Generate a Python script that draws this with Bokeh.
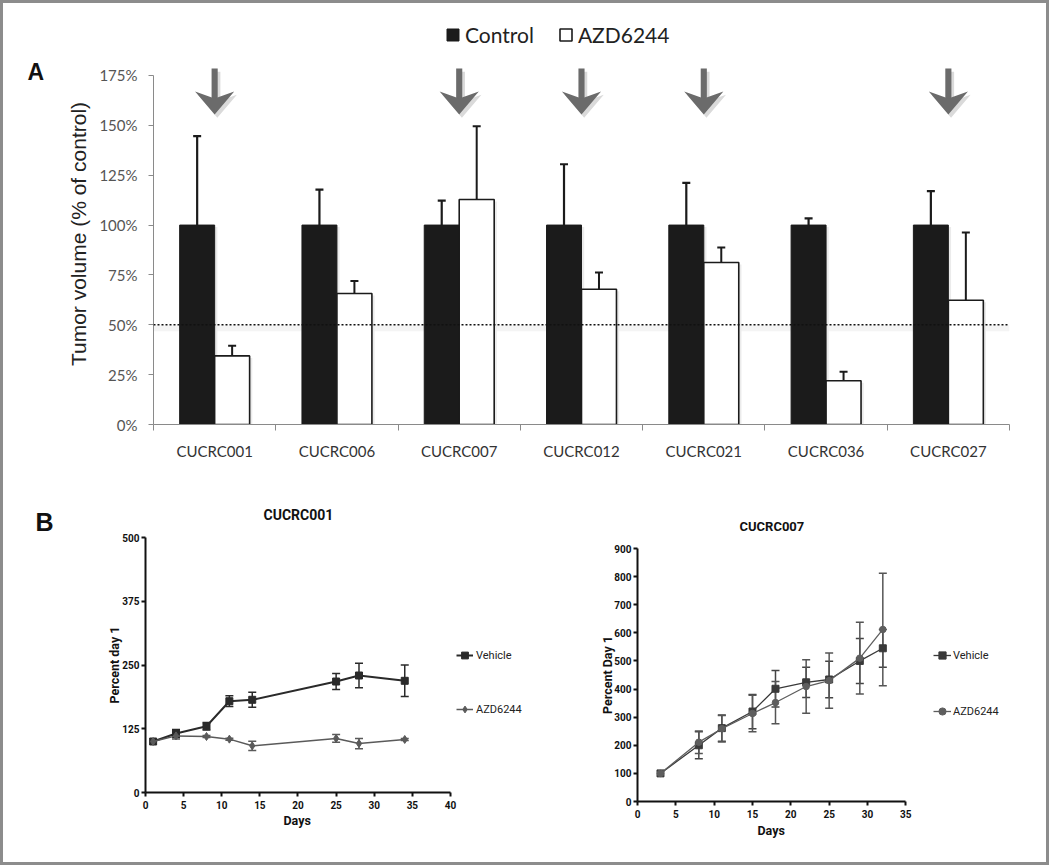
import numpy as np
from bokeh.plotting import figure
from bokeh.models import (ColumnDataSource, Range1d, FixedTicker, PrintfTickFormatter,
                          Whisker, TeeHead, Span, Label, Legend, LegendItem, Title)
from bokeh.layouts import column, row
from bokeh.embed import file_html
from bokeh.resources import INLINE

# ---------------- Panel A data ----------------
tumors = ["CUCRC001", "CUCRC006", "CUCRC007", "CUCRC012", "CUCRC021", "CUCRC036", "CUCRC027"]
control_mean = [100, 100, 100, 100, 100, 100, 100]
control_err = [44.6, 17.8, 12.3, 30.5, 21.2, 3.4, 17.0]
azd_mean = [34.4, 65.7, 112.8, 67.8, 81.2, 21.9, 62.3]
azd_err = [5.1, 6.3, 36.8, 8.4, 7.5, 4.5, 34.0]
arrow_tumors = ["CUCRC001", "CUCRC007", "CUCRC012", "CUCRC021", "CUCRC027"]
threshold = 50
a_ticks = [0, 25, 50, 75, 100, 125, 150, 175]

# ---------------- Panel B data ----------------
b1_days = [1, 4, 8, 11, 14, 25, 28, 34]
b1_vehicle = [100, 115.7, 130, 179, 181.8, 217.6, 229.4, 219]
b1_vehicle_err = [0, 8, 7.5, 10.5, 14.7, 15.7, 24, 31]
b1_azd = [100, 111, 109.8, 104.6, 91.5, 106, 96, 104]
b1_azd_err = [0, 6, 2, 2, 9, 7.5, 10, 2]
b1_xticks = [0, 5, 10, 15, 20, 25, 30, 35, 40]
b1_yticks = [0, 125, 250, 375, 500]

b2_days = [3, 8, 11, 15, 18, 22, 25, 29, 32]
b2_vehicle = [100, 200, 261, 320, 401, 424, 434, 500, 545]
b2_vehicle_err = [0, 48, 47, 61, 65, 54, 65, 80, 67]
b2_azd = [100, 211, 259, 313, 352, 409, 430, 510, 612]
b2_azd_err = [0, 40, 47, 65, 75, 95, 98, 128, 200]
b2_xticks = [0, 5, 10, 15, 20, 25, 30, 35]
b2_yticks = [0, 100, 200, 300, 400, 500, 600, 700, 800, 900]

COND = "Roboto"
ARIAL = "Liberation Sans"
CAL = "Lato"

# ================= left strip with panel letters / y label =================
strip = figure(width=89, height=859, x_range=Range1d(0, 89), y_range=Range1d(0, 859),
               x_axis_type=None, y_axis_type=None, output_backend="svg",
               toolbar_location=None, min_border=0)
strip.outline_line_color = None
strip.xgrid.visible = False
strip.ygrid.visible = False
strip.add_layout(Label(x=24, y=778, x_units="screen", y_units="screen", text="A",
                       text_font=ARIAL, text_font_style="bold", text_font_size="23px",
                       text_color="#111111"))
strip.add_layout(Label(x=74.5, y=628.5, x_units="screen", y_units="screen",
                       text="Tumor volume (% of control)", angle=np.pi / 2,
                       text_align="center", text_baseline="middle",
                       text_font=ARIAL, text_font_size="21px", text_color="#222222"))
strip.add_layout(Label(x=32, y=327, x_units="screen", y_units="screen", text="B",
                       text_font=ARIAL, text_font_style="bold", text_font_size="25px",
                       text_color="#111111"))

# ================= Panel A =================
pA = figure(width=954, height=469, x_range=Range1d(0, 7), y_range=Range1d(0, 211.1),
            output_backend="svg", toolbar_location=None,
            min_border_left=61, min_border_right=37, min_border_top=0, min_border_bottom=48)
pA.outline_line_color = None
pA.xgrid.visible = False
pA.ygrid.visible = False

centers = np.arange(len(tumors)) + 0.5
half = 0.143
srcA = ColumnDataSource(dict(
    xc=centers - half, xa=centers + half,
    c=control_mean, a=azd_mean,
    cu=np.add(control_mean, control_err), au=np.add(azd_mean, azd_err)))

pA.add_layout(Span(location=threshold - 1.8, dimension="width", line_color="#f4f4f4",
                   line_width=6, level="underlay"))

# soft bar shadows
pA.vbar(x=np.add(centers, half + 0.022), top=np.subtract(azd_mean, 1.0), bottom=0,
        width=2 * half, fill_color="#ebebeb", line_color=None)
pA.vbar(x=np.add(centers, -half + 0.022), top=np.subtract(control_mean, 1.0), bottom=0,
        width=2 * half, fill_color="#ebebeb", line_color=None)

rc = pA.vbar(x="xc", top="c", bottom=0, width=2 * half, source=srcA,
             fill_color="#1b1b1b", line_color="#1b1b1b", line_width=1)
ra = pA.vbar(x="xa", top="a", bottom=0, width=2 * half, source=srcA,
             fill_color="white", line_color="#1b1b1b", line_width=1.6)

pA.add_layout(Whisker(source=srcA, base="xc", lower="c", upper="cu", line_width=2.2,
                      line_color="#1b1b1b", lower_head=None,
                      upper_head=TeeHead(size=8, line_width=2.2, line_color="#1b1b1b")))
pA.add_layout(Whisker(source=srcA, base="xa", lower="a", upper="au", line_width=2,
                      line_color="#1b1b1b", lower_head=None,
                      upper_head=TeeHead(size=8, line_width=2, line_color="#1b1b1b")))

pA.add_layout(Span(location=threshold, dimension="width", line_color="#111111",
                   line_width=1.6, line_dash="2 2"))

# arrows
ax = np.array([tumors.index(t) + 0.5 for t in arrow_tumors])
hw = 0.16
for dx, dy, col in [(0.022, -1.6, "#dadada"), (0.0, 0.0, "#6b6b6b")]:
    pA.vbar(x=ax + dx, bottom=163 + dy, top=178.5 + dy, width=0.05, fill_color=col, line_color=None)
    pA.patches(xs=[[x - hw + dx, x + dx, x + hw + dx, x + dx] for x in ax],
               ys=[[167 + dy, 155.4 + dy, 167 + dy, 163.5 + dy] for _ in ax],
               fill_color=col, line_color=None)

# axes A
pA.xaxis.ticker = FixedTicker(ticks=list(centers), minor_ticks=list(range(len(tumors) + 1)))
pA.xaxis.major_label_overrides = {float(c): t for c, t in zip(centers, tumors)}
pA.xaxis.major_tick_out = 0
pA.xaxis.major_tick_in = 0
pA.xaxis.minor_tick_out = 6
pA.xaxis.minor_tick_in = 0
pA.xaxis.minor_tick_line_color = "#8a8a8a"
pA.xaxis.axis_line_color = "#8a8a8a"
pA.xaxis.major_label_standoff = 11
pA.xaxis.major_label_text_font = CAL
pA.xaxis.major_label_text_font_size = "15px"
pA.xaxis.major_label_text_color = "#333333"

pA.yaxis.ticker = FixedTicker(ticks=a_ticks, minor_ticks=[])
pA.yaxis.formatter = PrintfTickFormatter(format="%d%%")
pA.yaxis.bounds = (0, 175)
pA.yaxis.major_tick_out = 5
pA.yaxis.major_tick_in = 0
pA.yaxis.axis_line_color = "#8a8a8a"
pA.yaxis.major_tick_line_color = "#8a8a8a"
pA.yaxis.major_label_standoff = 11
pA.yaxis.major_label_text_font = CAL
pA.yaxis.major_label_text_font_size = "15px"
pA.yaxis.major_label_text_color = "#555555"

legA = Legend(items=[LegendItem(label="Control", renderers=[rc]),
                     LegendItem(label="AZD6244", renderers=[ra])],
              orientation="horizontal", location=(292, 377),
              glyph_width=15, glyph_height=15, label_standoff=5, spacing=24,
              padding=0, margin=0, border_line_color=None, background_fill_alpha=0,
              label_text_font=CAL, label_text_font_size="21px", label_height=24,
              label_text_color="#222222")
pA.add_layout(legA)


# ================= Panel B helpers =================
def style_axes(p, xticks, yticks, xbound, ylabel, ystand, lab_size):
    p.outline_line_color = None
    p.xgrid.visible = False
    p.ygrid.visible = False
    p.xaxis.ticker = FixedTicker(ticks=xticks, minor_ticks=[])
    p.yaxis.ticker = FixedTicker(ticks=yticks, minor_ticks=[])
    p.xaxis.bounds = xbound
    for a in (p.xaxis[0], p.yaxis[0]):
        a.axis_line_width = 2
        a.axis_line_color = "#111111"
        a.major_tick_line_width = 2
        a.major_tick_line_color = "#111111"
        a.major_tick_out = 4
        a.major_tick_in = 0
        a.major_label_text_font = COND
        a.major_label_text_font_style = "bold"
        a.major_label_text_font_size = "10px"
        a.major_label_text_color = "#111111"
        a.axis_label_text_font = COND
        a.axis_label_text_font_style = "bold"
        a.axis_label_text_font_size = lab_size
        a.axis_label_text_color = "#111111"
    p.xaxis.major_label_standoff = 4
    p.yaxis.major_label_standoff = 2
    p.yaxis.axis_label = ylabel
    p.yaxis.axis_label_standoff = ystand


def add_titles(p, title, t_size, t_off, t_stand, d_off, d_stand):
    p.title.text = title
    p.title.align = "left"
    p.title.offset = t_off
    p.title.standoff = t_stand
    p.title.text_font = COND
    p.title.text_font_style = "bold"
    p.title.text_font_size = t_size
    p.title.text_color = "#111111"
    p.add_layout(Title(text="Days", align="left", offset=d_off, standoff=d_stand,
                       vertical_align="top",
                       text_font=COND, text_font_style="bold", text_font_size="12.5px",
                       text_color="#111111"), "below")


def add_err(p, days, vals, errs, col):
    d = [(x, v - e, v + e) for x, v, e in zip(days, vals, errs) if e > 0]
    s = ColumnDataSource(dict(x=[t[0] for t in d], l=[t[1] for t in d], u=[t[2] for t in d]))
    p.add_layout(Whisker(source=s, base="x", lower="l", upper="u", line_width=1.5, line_color=col,
                         upper_head=TeeHead(size=8, line_width=1.5, line_color=col),
                         lower_head=TeeHead(size=8, line_width=1.5, line_color=col)))


# ================= Panel B left =================
pB1 = figure(width=436, height=390, x_range=Range1d(0, 50.23), y_range=Range1d(0, 500),
             output_backend="svg", toolbar_location=None,
             min_border_left=53, min_border_right=0, min_border_top=65, min_border_bottom=70)
style_axes(pB1, b1_xticks, b1_yticks, (0, 40), "Percent day 1", -3, "12.5px")
add_titles(pB1, "CUCRC001", "14px", 118, 30, 138, 2)

VCOL1 = "#2a2a2a"
ACOL1 = "#5a5a5a"
add_err(pB1, b1_days, b1_vehicle, b1_vehicle_err, VCOL1)
add_err(pB1, b1_days, b1_azd, b1_azd_err, ACOL1)
lv1 = pB1.line(b1_days, b1_vehicle, line_width=2, line_color=VCOL1)
sv1 = pB1.scatter(b1_days, b1_vehicle, marker="square", size=7, fill_color=VCOL1, line_color=VCOL1)
la1 = pB1.line(b1_days, b1_azd, line_width=1.5, line_color=ACOL1)
sa1 = pB1.scatter(b1_days, b1_azd, marker="diamond", size=8, fill_color=ACOL1, line_color=ACOL1)

legB1 = Legend(items=[LegendItem(label="Vehicle", renderers=[lv1, sv1]),
                      LegendItem(label="AZD6244", renderers=[la1, sa1])],
               location=(311, 73), glyph_width=17, glyph_height=20, label_height=20,
               label_standoff=3, spacing=34, padding=0, margin=0, border_line_color=None,
               background_fill_alpha=0, label_text_font=COND, label_text_font_size="11px",
               label_text_color="#222222")
pB1.add_layout(legB1)

# ================= Panel B right =================
pB2 = figure(width=518, height=390, x_range=Range1d(0, 53.35), y_range=Range1d(0, 900),
             output_backend="svg", toolbar_location=None,
             min_border_left=109, min_border_right=0, min_border_top=76, min_border_bottom=61)
style_axes(pB2, b2_xticks, b2_yticks, (0, 35), "Percent Day 1", -4, "12.5px")
add_titles(pB2, "CUCRC007", "13px", 102, 30, 120, 4)

VCOL2 = "#3a3a3a"
ACOL2 = "#5e5e5e"
add_err(pB2, b2_days, b2_vehicle, b2_vehicle_err, "#444444")
add_err(pB2, b2_days, b2_azd, b2_azd_err, "#555555")
lv2 = pB2.line(b2_days, b2_vehicle, line_width=1.3, line_color=VCOL2)
sv2 = pB2.scatter(b2_days, b2_vehicle, marker="square", size=7, fill_color=VCOL2, line_color=VCOL2)
la2 = pB2.line(b2_days, b2_azd, line_width=1.3, line_color=ACOL2)
sa2 = pB2.scatter(b2_days, b2_azd, marker="circle", size=6.5, fill_color=ACOL2, line_color=ACOL2)

legB2 = Legend(items=[LegendItem(label="Vehicle", renderers=[lv2, sv2]),
                      LegendItem(label="AZD6244", renderers=[la2, sa2])],
               location=(296, 80), glyph_width=18, glyph_height=20, label_height=20,
               label_standoff=2, spacing=36, padding=0, margin=0, border_line_color=None,
               background_fill_alpha=0, label_text_font=COND, label_text_font_size="11px",
               label_text_color="#222222")
pB2.add_layout(legB2)

layout = row(strip, column(pA, row(column(pB1), column(pB2))), margin=3,
             styles={"outline": "3px solid #8c8c8c"})

open("out.html", "w").write(file_html(layout, INLINE))
